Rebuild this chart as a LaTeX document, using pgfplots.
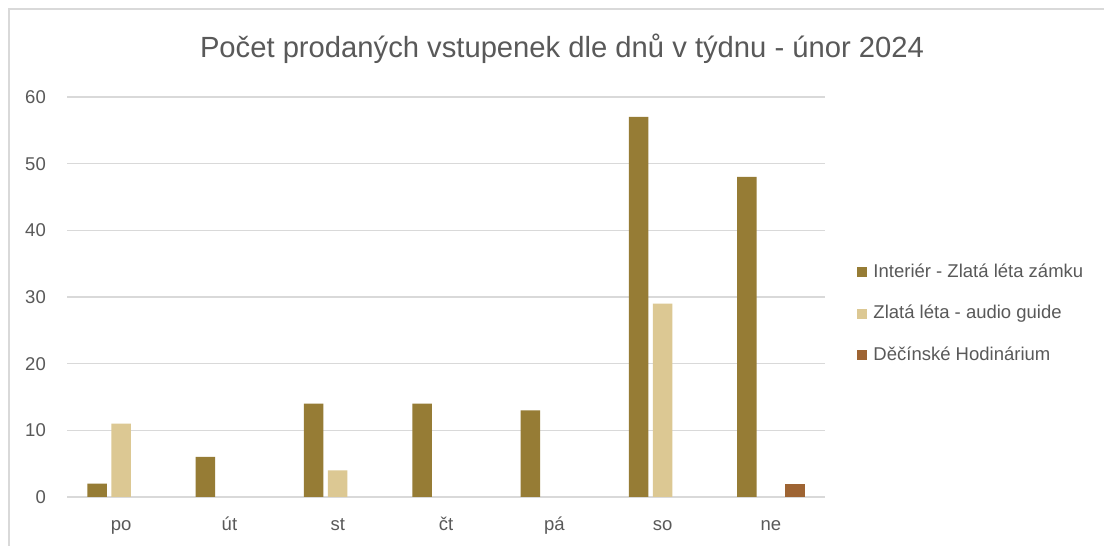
\documentclass[border=0pt]{standalone}
\usepackage{fontspec}
\setmainfont{Liberation Sans}
\usepackage{pgfplots}
\pgfplotsset{compat=1.18}
\definecolor{cone}{HTML}{967C35}
\definecolor{ctwo}{HTML}{DCC893}
\definecolor{cthree}{HTML}{9E6433}
\definecolor{txtc}{HTML}{595959}
\definecolor{gridc}{HTML}{D9D9D9}
\newcommand{\lbl}{\fontsize{18.5bp}{22bp}\selectfont}
\pgfplotsset{
  sq/.style={legend image code/.code={\fill[##1,draw=none] (0bp,-5bp) rectangle (10bp,5bp); \path (16.5bp,0bp);}}
}
\begin{document}
\begin{tikzpicture}
\path[use as bounding box, fill=white] (0bp,0bp) rectangle (1104bp,546bp);
\draw[gridc, line width=1.3bp] (9bp,0bp) -- (9bp,537bp) -- (1104bp,537bp);
\node[anchor=base, font=\fontsize{29.2bp}{34bp}\selectfont, text=txtc, inner sep=0pt] at (562bp,488.7bp) {Počet prodaných vstupenek dle dnů v týdnu - únor 2024};
\begin{axis}[
  at={(67bp,49bp)}, anchor=south west,
  scale only axis, width=758bp, height=400bp,
  xmin=-0.5, xmax=6.5, ymin=0, ymax=60,
  ybar=4.5bp, bar width=19.5bp,
  axis line style={draw=none},
  major tick length=0pt,
  xtick={0,1,2,3,4,5,6},
  xticklabels={po,út,st,čt,pá,so,ne},
  ytick={0,10,20,30,40,50,60},
  ymajorgrids,
  major grid style={draw=gridc, line width=1.3bp},
  /pgf/number format/assume math mode=true,
  yticklabel style={font=\lbl, text=txtc, anchor=east, inner sep=0pt, xshift=-21bp},
  xticklabel style={font=\lbl, text=txtc, anchor=base, inner sep=0pt, yshift=-33bp},
  legend style={at={(1.0422,0.4575)}, anchor=west, draw=none, fill=none,
    inner sep=0pt, outer sep=0pt, row sep=23.5bp, font=\lbl, text=txtc,
    nodes={inner sep=0pt, text height=14bp, text depth=4bp}},
  legend cell align=left,
]
\addplot[fill=cone, draw=none, sq] coordinates {(0,2) (1,6) (2,14) (3,14) (4,13) (5,57) (6,48)};
\addplot[fill=ctwo, draw=none, sq] coordinates {(0,11) (2,4) (5,29)};
\addplot[fill=cthree, draw=none, sq] coordinates {(6,2)};
\legend{Interiér - Zlatá léta zámku, Zlatá léta - audio guide, Děčínské Hodinárium}
\end{axis}
\end{tikzpicture}
\end{document}
